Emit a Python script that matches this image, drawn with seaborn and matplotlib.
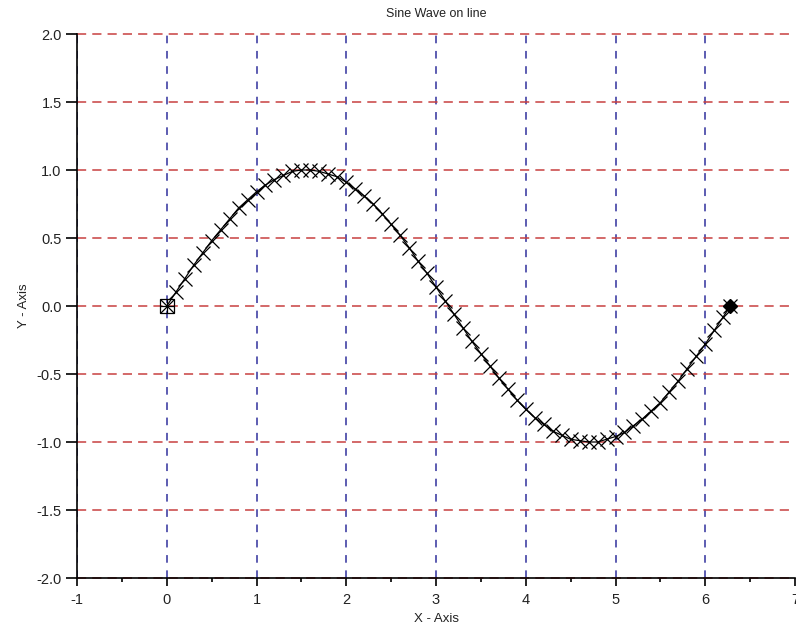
import numpy as np
import pandas as pd
import matplotlib
matplotlib.use("Agg")
import matplotlib.pyplot as plt
import seaborn as sns
from matplotlib.ticker import MultipleLocator, FormatStrFormatter

# Points (x step 0.1 from 0 to 6.2, then end at 2*pi)
x_vals = [0.0, 0.1, 0.2, 0.3, 0.4, 0.5, 0.6, 0.7, 0.8, 0.9,
          1.0, 1.1, 1.2, 1.3, 1.4, 1.5, 1.6, 1.7, 1.8, 1.9,
          2.0, 2.1, 2.2, 2.3, 2.4, 2.5, 2.6, 2.7, 2.8, 2.9,
          3.0, 3.1, 3.2, 3.3, 3.4, 3.5, 3.6, 3.7, 3.8, 3.9,
          4.0, 4.1, 4.2, 4.3, 4.4, 4.5, 4.6, 4.7, 4.8, 4.9,
          5.0, 5.1, 5.2, 5.3, 5.4, 5.5, 5.6, 5.7, 5.8, 5.9,
          6.0, 6.1, 6.2, 6.28]
y_vals = [0.00, 0.10, 0.20, 0.30, 0.39, 0.48, 0.56, 0.64, 0.72, 0.78,
          0.84, 0.89, 0.93, 0.96, 0.99, 1.00, 1.00, 0.99, 0.97, 0.95,
          0.91, 0.86, 0.81, 0.75, 0.68, 0.60, 0.52, 0.43, 0.33, 0.24,
          0.14, 0.04, -0.06, -0.16, -0.26, -0.35, -0.44, -0.53, -0.61, -0.69,
          -0.76, -0.82, -0.87, -0.92, -0.95, -0.98, -0.99, -1.00, -1.00, -0.98,
          -0.96, -0.93, -0.88, -0.83, -0.77, -0.71, -0.63, -0.55, -0.46, -0.37,
          -0.28, -0.18, -0.08, 0.00]
start_pt = (0.0, 0.0)
end_pt = (6.28, 0.0)

title = "Sine Wave on line"
xlabel = "X - Axis"
ylabel = "Y - Axis"

sns.set_style("white")
plt.rcParams["font.family"] = ["Liberation Sans", "DejaVu Sans"]
plt.rcParams["axes.unicode_minus"] = False

df = pd.DataFrame({"x": x_vals, "y": y_vals})

fig = plt.figure(figsize=(7.96, 6.32), dpi=100)
ax = fig.add_axes([77 / 796, 1 - 578 / 632, 718 / 796, 544 / 632])

sns.lineplot(data=df, x="x", y="y", ax=ax, color="black", linewidth=0.9,
             marker="x", markersize=10.5, markeredgewidth=0.9,
             markeredgecolor="black", sort=False)

# start marker: open square with a plus
ax.plot([start_pt[0]], [start_pt[1]], marker="s", markersize=10,
        markerfacecolor="none", markeredgecolor="black", markeredgewidth=0.9,
        linestyle="none", zorder=5)
ax.plot([start_pt[0]], [start_pt[1]], marker="+", markersize=10,
        markeredgecolor="black", markeredgewidth=0.9, linestyle="none", zorder=5)
# end marker: filled diamond
ax.plot([end_pt[0]], [end_pt[1]], marker="D", markersize=7.5,
        color="black", linestyle="none", zorder=5)

ax.set_xlim(-1, 7)
ax.set_ylim(-2, 2)
ax.xaxis.set_major_locator(MultipleLocator(1))
ax.xaxis.set_minor_locator(MultipleLocator(0.5))
ax.yaxis.set_major_locator(MultipleLocator(0.5))
ax.yaxis.set_major_formatter(FormatStrFormatter("%.1f"))

ax.set_axisbelow(True)
ax.xaxis.grid(True, color="#30309c", linestyle=(0, (5, 5)), linewidth=1.1)
ax.yaxis.grid(True, color="#c84040", linestyle=(0, (6, 4)), linewidth=1.1)

for s in ["top", "right"]:
    ax.spines[s].set_visible(False)
for s in ["left", "bottom"]:
    ax.spines[s].set_color("black")
    ax.spines[s].set_linewidth(1.2)

ax.tick_params(axis="x", which="major", direction="out", length=6, width=1.2,
               color="black", labelsize=10.5, labelcolor="#222222", pad=5, bottom=True)
ax.tick_params(axis="x", which="minor", direction="out", length=3, width=1.2,
               color="black", bottom=True)
ax.tick_params(axis="y", which="major", direction="out", length=8, width=1.2,
               color="black", labelsize=10.5, labelcolor="#222222", pad=3, left=True)

ax.set_title(title, fontsize=9, color="#222222", pad=12)
ax.set_xlabel(xlabel, fontsize=9.5, color="#222222", labelpad=4)
ax.set_ylabel(ylabel, fontsize=9.5, color="#222222", labelpad=5)

# top red line shown whole, no blue line on the right edge
fig.canvas.draw()
for t in ax.yaxis.get_major_ticks():
    t.gridline.set_clip_on(False)
for t in ax.xaxis.get_major_ticks():
    if t.get_loc() >= 7:
        t.gridline.set_visible(False)

fig.savefig("out.png", dpi=100)
